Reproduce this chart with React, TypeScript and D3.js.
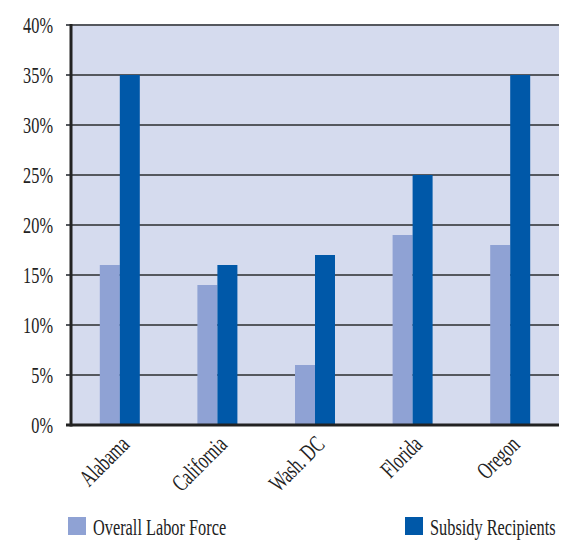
import React from 'react';
import * as d3 from 'd3';

const states = ['Alabama', 'California', 'Wash. DC', 'Florida', 'Oregon'];
const laborForce = [16, 14, 6, 19, 18];
const subsidy = [35, 16, 17, 25, 35];
const yTicks = [0, 5, 10, 15, 20, 25, 30, 35, 40];
const seriesNames = ['Overall Labor Force', 'Subsidy Recipients'];
const seriesColors = ['#8fa2d4', '#0058a8'];

const W = 565, H = 548;
const margin = {top: 25, right: 6, bottom: 123, left: 71};
const FONT = '"Liberation Serif", "DejaVu Serif", serif';
const SQ = 0.68; // squeeze text horizontally, the original font is condensed
const FS = 24;

export default function App() {
  const x = d3.scaleBand<string>()
    .domain(states)
    .range([margin.left, W - margin.right]);
  const y = d3.scaleLinear()
    .domain([0, 40])
    .range([H - margin.bottom, margin.top]);
  const barW = 20;

  return (
    <svg width={W} height={H} style={{position: 'absolute', left: 0, top: 0}}>
      <rect x={margin.left} y={margin.top} width={W - margin.right - margin.left}
            height={y(0) - margin.top} fill="#d5dbee" />

      {yTicks.map(t => (
        <g key={t}>
          {t > 0 && <line x1={margin.left - 5} x2={W - margin.right} y1={y(t)} y2={y(t)}
                stroke="#55585e" strokeWidth={2} />}
          <text transform={`translate(${margin.left - 18},${y(t)}) scale(${SQ},1)`}
                textAnchor="end" dy="0.35em" fontFamily={FONT} fontSize={FS} fill="#222">
            {t + '%'}
          </text>
        </g>
      ))}

      {states.map((s, i) => {
        const cx = x(s)! + x.bandwidth() / 2;
        return (
          <g key={s}>
            <rect x={cx - barW} y={y(laborForce[i])} width={barW}
                  height={y(0) - y(laborForce[i])} fill={seriesColors[0]} />
            <rect x={cx} y={y(subsidy[i])} width={barW}
                  height={y(0) - y(subsidy[i])} fill={seriesColors[1]} />
            <text transform={`translate(${cx - 1},${y(0) + 9}) rotate(-45) scale(${SQ},1)`}
                  textAnchor="end" dy="0.7em" fontFamily={FONT} fontSize={FS} fill="#222">
              {s}
            </text>
          </g>
        );
      })}

      <line x1={margin.left} x2={margin.left} y1={margin.top - 1} y2={y(0) + 1.5}
            stroke="#222" strokeWidth={3} />
      <line x1={margin.left - 5} x2={W - margin.right} y1={y(0)} y2={y(0)}
            stroke="#222" strokeWidth={3} />

      {seriesNames.map((n, i) => {
        const lx = i === 0 ? 68 : 405;
        return (
          <g key={n}>
            <rect x={lx} y={517} width={18} height={18} fill={seriesColors[i]} />
            <text transform={`translate(${lx + 25},535) scale(${SQ},1)`}
                  fontFamily={FONT} fontSize={FS} fill="#222">{n}</text>
          </g>
        );
      })}
    </svg>
  );
}
